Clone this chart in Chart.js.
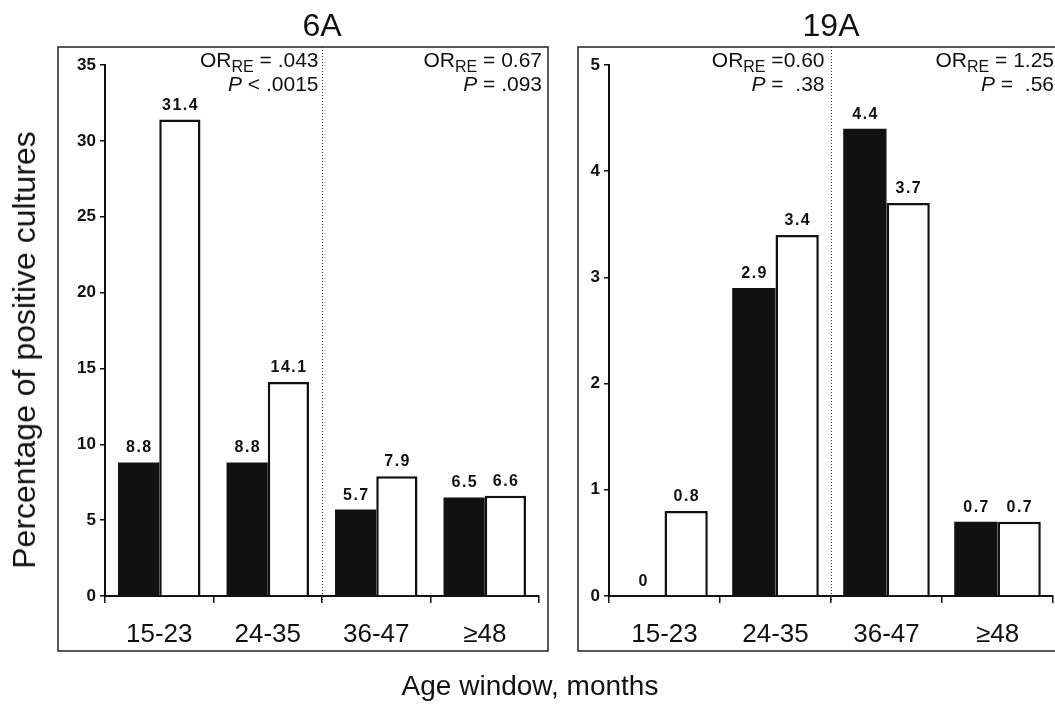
<!DOCTYPE html>
<html><head><meta charset="utf-8">
<script src="https://cdn.jsdelivr.net/npm/chart.js@4.4.1/dist/chart.umd.min.js"></script>
<style>
html,body{margin:0;padding:0;background:#fff;width:1055px;height:705px;overflow:hidden;}
#c1{position:absolute;left:0;top:0;}
#c2{position:absolute;left:566px;top:0;}
.t{position:absolute;font-family:"Liberation Sans",Arial,sans-serif;color:#111;white-space:nowrap;line-height:1;}
#ytitle{font-size:32px;left:24px;top:350px;transform:translate(-50%,-50%) rotate(-90deg);}
#xtitle{font-size:28px;left:530px;top:686px;transform:translate(-50%,-50%);}
</style></head><body>
<canvas id="c1" width="562" height="700"></canvas>
<canvas id="c2" width="489" height="700"></canvas>
<div class="t" id="ytitle">Percentage of positive cultures</div>
<div class="t" id="xtitle">Age window, months</div>
<script>
const FAMILY = '"Liberation Sans", Arial, sans-serif';
const ageWindows = ['15-23', '24-35', '36-47', '≥48'];

// Serotype 6A
const title6A = '6A';
const black6A = [8.8, 8.8, 5.7, 6.5];
const white6A = [31.4, 14.1, 7.9, 6.6];
const yTicks6A = {min: 0, max: 35, step: 5};
const anno6A = [
  {or: '= .043', p: '< .0015'},
  {or: '= 0.67', p: '= .093'}
];

// Serotype 19A
const title19A = '19A';
const black19A = [0, 2.9, 4.4, 0.7];
const white19A = [0.8, 3.4, 3.7, 0.7];
const yTicks19A = {min: 0, max: 5, step: 1};
const anno19A = [
  {or: '=0.60', p: '=  .38'},
  {or: '= 1.25', p: '=  .56'}
];

function drawParts(ctx, xRight, parts) {
  let total = 0;
  parts.forEach(p => { ctx.font = p.font; total += ctx.measureText(p.text).width; });
  let x = xRight - total;
  parts.forEach(p => {
    ctx.font = p.font;
    ctx.textAlign = 'left';
    ctx.textBaseline = 'alphabetic';
    ctx.fillText(p.text, x, p.y);
    x += ctx.measureText(p.text).width;
  });
}

function makeChart(canvas, cfg) {
  const deco = {
    id: 'deco',
    afterDatasetsDraw(chart) {
      const ctx = chart.ctx;
      ctx.save();
      ctx.fillStyle = '#111';
      ctx.font = 'bold 16px ' + FAMILY;
      ctx.letterSpacing = '1.5px';
      ctx.textAlign = 'center';
      ctx.textBaseline = 'alphabetic';
      chart.data.datasets.forEach((ds, i) => {
        chart.getDatasetMeta(i).data.forEach((bar, j) => {
          ctx.fillText(String(ds.data[j]), bar.x + 0.75, bar.y - 10);
        });
      });
      ctx.letterSpacing = '0px';
      ctx.restore();
    },
    afterDraw(chart) {
      const ctx = chart.ctx;
      const xs = chart.scales.x;
      const area = chart.chartArea;
      ctx.save();
      // frame
      ctx.strokeStyle = '#222';
      ctx.lineWidth = 1.5;
      ctx.strokeRect(cfg.frame[0], cfg.frame[1], cfg.frame[2], cfg.frame[3]);
      // dotted divider
      const dx = Math.round((xs.getPixelForValue(1) + xs.getPixelForValue(2)) / 2) + 0.5;
      ctx.setLineDash([1, 2]);
      ctx.lineWidth = 1;
      ctx.strokeStyle = '#333';
      ctx.beginPath();
      ctx.moveTo(dx, cfg.frame[1]);
      ctx.lineTo(dx, area.bottom + 6);
      ctx.stroke();
      ctx.setLineDash([]);
      // title
      ctx.fillStyle = '#111';
      ctx.font = '32px ' + FAMILY;
      ctx.textAlign = 'center';
      ctx.textBaseline = 'alphabetic';
      ctx.fillText(cfg.title, (area.left + area.right) / 2, 36);
      // annotations
      const rights = [dx - cfg.annoGap, area.right + cfg.annoRight];
      cfg.anno.forEach((a, k) => {
        drawParts(ctx, rights[k], [
          {text: 'OR', font: '21px ' + FAMILY, y: 67},
          {text: 'RE', font: '16px ' + FAMILY, y: 72},
          {text: ' ' + a.or, font: '21px ' + FAMILY, y: 67}
        ]);
        drawParts(ctx, rights[k], [
          {text: 'P', font: 'italic 21px ' + FAMILY, y: 91},
          {text: ' ' + a.p, font: '21px ' + FAMILY, y: 91}
        ]);
      });
      ctx.restore();
    }
  };
  return new Chart(canvas, {
    type: 'bar',
    data: {
      labels: ageWindows,
      datasets: [
        {data: cfg.black, backgroundColor: '#111', borderColor: '#111', borderWidth: 0,
         categoryPercentage: cfg.catPct, barPercentage: 1.0},
        {data: cfg.white, backgroundColor: '#fff', borderColor: '#111', borderWidth: 2.5,
         categoryPercentage: cfg.catPct, barPercentage: 1.0}
      ]
    },
    options: {
      responsive: false,
      animation: false,
      events: [],
      layout: {padding: {left: 0, right: cfg.padRight, top: 65, bottom: 44}},
      plugins: {legend: {display: false}, tooltip: {enabled: false}},
      scales: {
        x: {
          grid: {offset: true, drawOnChartArea: false, tickLength: 7, color: '#111', lineWidth: 1.5},
          border: {color: '#111', width: 2},
          ticks: {font: {family: FAMILY, size: 26}, color: '#111', padding: 16},
          afterFit: s => { s.height = 60; }
        },
        y: {
          min: cfg.y.min, max: cfg.y.max,
          grid: {drawOnChartArea: false, tickLength: 5, color: '#111', lineWidth: 1.5},
          border: {color: '#111', width: 2},
          ticks: {stepSize: cfg.y.step, font: {family: FAMILY, size: 17, weight: 'bold'}, color: '#111', padding: 4},
          afterFit: s => { s.width = cfg.axisW; }
        }
      }
    },
    plugins: [deco]
  });
}

makeChart(document.getElementById('c1'), {
  title: title6A, black: black6A, white: white6A, y: yTicks6A, anno: anno6A,
  frame: [58, 47, 490, 604], axisW: 105, padRight: 23, catPct: 0.76,
  annoGap: 4, annoRight: 3
});
makeChart(document.getElementById('c2'), {
  title: title19A, black: black19A, white: white19A, y: yTicks19A, anno: anno19A,
  frame: [12, 47, 500, 604], axisW: 43, padRight: 2, catPct: 0.78,
  annoGap: 7, annoRight: 1
});
</script>
</body></html>
